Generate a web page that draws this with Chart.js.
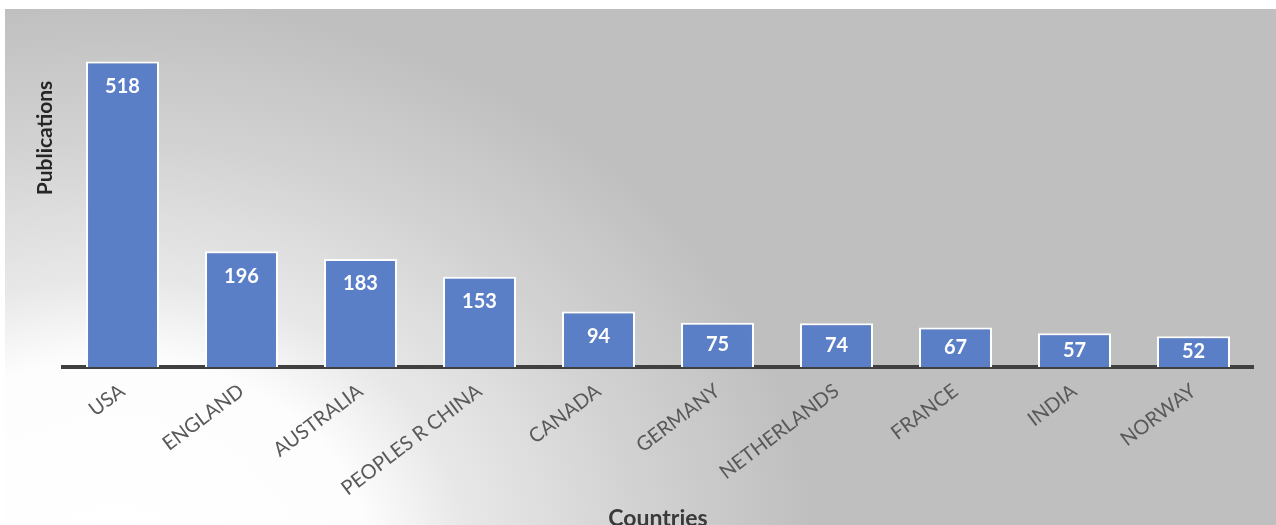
<!DOCTYPE html>
<html>
<head>
<meta charset="utf-8">
<script src="https://cdn.jsdelivr.net/npm/chart.js@4.4.1/dist/chart.umd.min.js"></script>
<style>
  html, body { margin: 0; padding: 0; background: #ffffff; width: 1276px; height: 525px; overflow: hidden; }
  #panel {
    position: absolute; left: 5px; top: 9px; width: 1271px; height: 516px; overflow: hidden;
    background: radial-gradient(ellipse 700px 560px at 110px 551px,
      #ffffff 0%, #fdfdfd 36%, #e8e8e8 50%, #dcdcdc 64%, #d2d2d2 75%, #c7c7c7 90%, #bfbfbf 100%);
  }
  #chart { position: absolute; left: 0; top: 0; }
</style>
</head>
<body>
<div id="panel"><canvas id="chart" width="1271" height="525"></canvas></div>
<script>
// Top ten countries by number of publications
const countries = ['USA', 'ENGLAND', 'AUSTRALIA', 'PEOPLES R CHINA', 'CANADA',
                   'GERMANY', 'NETHERLANDS', 'FRANCE', 'INDIA', 'NORWAY'];
const publications = [518, 196, 183, 153, 94, 75, 74, 67, 57, 52];
const yAxisTitle = 'Publications';
const xAxisTitle = 'Countries';

const FONT = 'Lato, "Open Sans", sans-serif';

// Value labels written inside the top of each bar
const barValueLabels = {
  id: 'barValueLabels',
  afterDatasetsDraw(chart) {
    const ctx = chart.ctx;
    const meta = chart.getDatasetMeta(0);
    ctx.save();
    ctx.fillStyle = '#ffffff';
    ctx.font = 'bold 20px ' + FONT;
    ctx.textAlign = 'center';
    ctx.textBaseline = 'middle';
    meta.data.forEach((bar, i) => {
      const cy = Math.min(bar.y + 25, (bar.y + bar.base) / 2);
      ctx.fillText(String(chart.data.datasets[0].data[i]), bar.x, cy);
    });
    ctx.restore();
  }
};

// Vertical axis title, placed in the upper left of the panel
const valueAxisTitle = {
  id: 'valueAxisTitle',
  afterDraw(chart) {
    const ctx = chart.ctx;
    ctx.save();
    ctx.translate(40, 129);
    ctx.rotate(-Math.PI / 2);
    ctx.fillStyle = '#262626';
    ctx.font = 'bold 21px ' + FONT;
    ctx.textAlign = 'center';
    ctx.textBaseline = 'middle';
    ctx.fillText(yAxisTitle, 0, 0);
    ctx.restore();
  }
};

new Chart(document.getElementById('chart'), {
  type: 'bar',
  data: {
    labels: countries,
    datasets: [{
      data: publications,
      backgroundColor: '#5a7fc7',
      borderColor: '#ffffff',
      borderWidth: { top: 2, left: 2, right: 2, bottom: 0 },
      barPercentage: 0.613,
      categoryPercentage: 1
    }]
  },
  options: {
    responsive: false,
    animation: false,
    devicePixelRatio: 1,
    layout: { padding: { left: 58, right: 23, top: 4, bottom: 0 } },
    plugins: { legend: { display: false }, tooltip: { enabled: false } },
    scales: {
      x: {
        grid: { display: false, drawTicks: false },
        border: { display: true, color: '#404040', width: 4 },
        ticks: {
          color: '#595959',
          font: { family: FONT, size: 20 },
          minRotation: 37, maxRotation: 37,
          padding: 12,
          autoSkip: false
        },
        title: {
          display: true,
          text: xAxisTitle,
          color: '#3a3a3a',
          font: { family: FONT, size: 23, weight: 'bold' },
          padding: { top: 0, bottom: 2 }
        },
        afterFit(scale) { scale.height = 167; }
      },
      y: { display: false, min: 0, max: 600 }
    }
  },
  plugins: [barValueLabels, valueAxisTitle]
});
</script>
</body>
</html>
